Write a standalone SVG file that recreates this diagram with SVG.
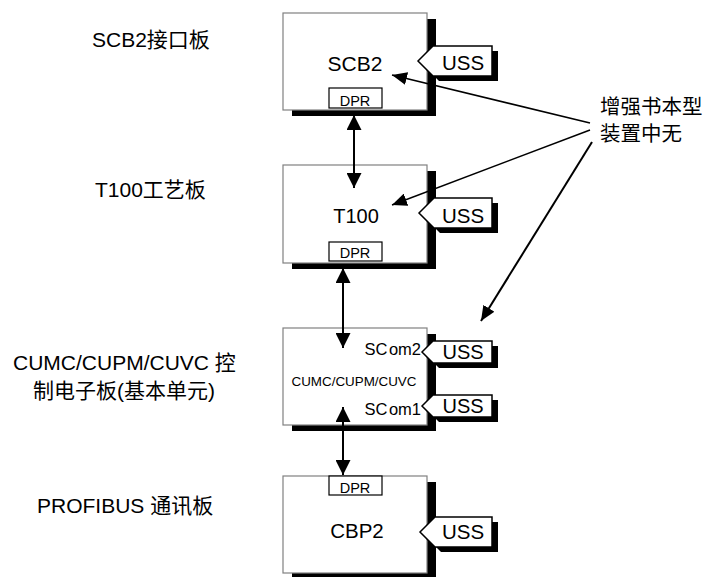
<svg xmlns="http://www.w3.org/2000/svg" width="704" height="577" viewBox="0 0 704 577">
<style>
.box{fill:#fff;stroke:#808080;stroke-width:1.2}
.shadow{fill:#000}
.dpr{fill:#fff;stroke:#000;stroke-width:1.2}
.tag{fill:#fff;stroke:#000;stroke-width:1.5}
.t{font-family:"Liberation Sans","Noto Sans CJK SC",sans-serif;fill:#000}
.c{text-anchor:middle}
.conn{stroke:#000;fill:none}
</style>
<defs>
<marker id="ah" markerUnits="userSpaceOnUse" markerWidth="15" markerHeight="15" refX="15" refY="7.5" orient="auto-start-reverse"><path d="M0,0 L15,7.5 L0,15 z" fill="#000"/></marker>
<marker id="ah2" markerUnits="userSpaceOnUse" markerWidth="15" markerHeight="13" refX="15" refY="6.5" orient="auto"><path d="M0,0 L15,6.5 L0,13 z" fill="#000"/></marker>
</defs>
<rect width="704" height="577" fill="#fff"/>
<g id="label-scb2"><text class="t" x="92" y="47" font-size="21">SCB2接口板</text></g>
<g id="label-t100"><text class="t" x="95" y="197" font-size="21">T100工艺板</text></g>
<g id="label-cumc"><text class="t" x="13" y="370" font-size="21">CUMC/CUPM/CUVC 控</text><text class="t" x="33" y="398" font-size="21">制电子板(基本单元)</text></g>
<g id="label-profibus"><text class="t" x="37" y="513" font-size="21">PROFIBUS 通讯板</text></g>
<g id="note"><text class="t" x="600" y="114" font-size="20.5">增强书本型</text><text class="t" x="600" y="141" font-size="20.5">装置中无</text></g>
<g id="scb2">
<rect class="shadow" x="292" y="19" width="144" height="97"/>
<rect class="box" x="283" y="13" width="144" height="97"/>
<text class="t c" x="355" y="71" font-size="21">SCB2</text>
<rect class="dpr" x="329" y="88" width="53" height="20"/>
<text class="t c" x="355" y="106" font-size="14.5">DPR</text>
</g>
<g id="scb2-uss">
<polygon class="shadow" points="424,66 439,51 498,51 498,81 439,81"/>
<polygon class="tag" points="418,61 433,46 492,46 492,76 433,76"/>
<text class="t c" x="463" y="70" font-size="20.5">USS</text>
</g>
<g id="t100">
<rect class="shadow" x="292" y="171" width="144" height="98"/>
<rect class="box" x="283" y="165" width="144" height="98"/>
<text class="t c" x="356" y="223" font-size="20">T100</text>
<rect class="dpr" x="329" y="242" width="53" height="19"/>
<text class="t c" x="355" y="258" font-size="14.5">DPR</text>
</g>
<g id="t100-uss">
<polygon class="shadow" points="425,218 440,203 498,203 498,233 440,233"/>
<polygon class="tag" points="419,213 434,198 492,198 492,228 434,228"/>
<text class="t c" x="463" y="223" font-size="20.5">USS</text>
</g>
<g id="cumc">
<rect class="shadow" x="292" y="334" width="144" height="97"/>
<rect class="box" x="283" y="328" width="144" height="97"/>
<text class="t" x="421" y="355" font-size="16.5" text-anchor="end">SC<tspan dx="1.5">om2</tspan></text>
<text class="t c" x="354" y="386" font-size="13.4">CUMC/CUPM/CUVC</text>
<text class="t" x="421" y="415" font-size="16.5" text-anchor="end">SC<tspan dx="1.5">om1</tspan></text>
</g>
<g id="scom2-uss">
<polygon class="shadow" points="428,357 439,346 498,346 498,368 439,368"/>
<polygon class="tag" points="422,352 433,341 492,341 492,363 433,363"/>
<text class="t c" x="463" y="359" font-size="20">USS</text>
</g>
<g id="scom1-uss">
<polygon class="shadow" points="428,411 439,400 498,400 498,422 439,422"/>
<polygon class="tag" points="422,406 433,395 492,395 492,417 433,417"/>
<text class="t c" x="463" y="413" font-size="20">USS</text>
</g>
<g id="cbp2">
<rect class="shadow" x="292" y="482" width="144" height="97"/>
<rect class="box" x="283" y="476" width="144" height="97"/>
<rect class="dpr" x="329" y="476" width="53" height="19"/>
<text class="t c" x="355" y="493" font-size="14.5">DPR</text>
<text class="t c" x="357" y="538" font-size="20.5">CBP2</text>
</g>
<g id="cbp2-uss">
<polygon class="shadow" points="426,537 441,522 498,522 498,552 441,552"/>
<polygon class="tag" points="420,532 435,517 492,517 492,547 435,547"/>
<text class="t c" x="463" y="539" font-size="20.5">USS</text>
</g>
<g id="connectors">
<line class="conn" stroke-width="2" x1="354" y1="115" x2="354" y2="188" marker-start="url(#ah)" marker-end="url(#ah)"/>
<line class="conn" stroke-width="2" x1="343" y1="268" x2="343" y2="348" marker-start="url(#ah)" marker-end="url(#ah)"/>
<line class="conn" stroke-width="2" x1="343" y1="407" x2="343" y2="475" marker-start="url(#ah)" marker-end="url(#ah)"/>
<line class="conn" stroke-width="1.5" x1="590" y1="123" x2="392" y2="75" marker-end="url(#ah2)"/>
<line class="conn" stroke-width="1.5" x1="590" y1="130" x2="392" y2="205" marker-end="url(#ah2)"/>
<line class="conn" stroke-width="2" x1="592" y1="142" x2="481" y2="321" marker-end="url(#ah2)"/>
</g>
</svg>
